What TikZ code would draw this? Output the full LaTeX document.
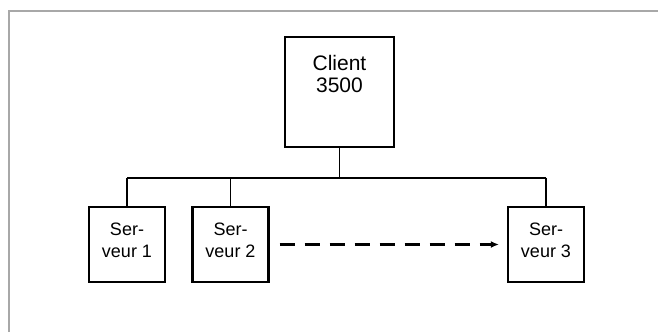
\documentclass[tikz,border=0pt]{standalone}
\usepackage{fontspec}
\setmainfont{Liberation Sans}
\setsansfont{Liberation Sans}
\usetikzlibrary{arrows.meta}
\definecolor{framegray}{HTML}{A8A8A8}
\tikzset{
  font=\sffamily,
  frame/.style={draw=framegray, line width=2pt},
  hostbox/.style={draw, line width=2.2pt, minimum width=109pt, minimum height=110pt, inner sep=0pt},
  hostlabel/.style={align=center, inner sep=0pt, font=\sffamily\fontsize{21}{22}\selectfont},
  serverbox/.style={
    draw, line width=2.2pt, minimum width=76pt, minimum height=75pt,
    align=center, inner sep=0pt, text depth=8pt,
    font=\sffamily\fontsize{18}{22}\selectfont
  },
  link/.style={line width=1.7pt},
  transfer/.style={-{Latex[length=8pt,width=7pt]}, line width=2.6pt, dash pattern=on 15pt off 10pt}
}
\begin{document}
\begin{tikzpicture}[x=1pt,y=-1pt]
  \useasboundingbox (0,0) rectangle (658,332);
  \draw[frame] (9,332) -- (9,11) -- (658,11);

  \node[hostbox] (client) at (339.5,92) {};
  \node[hostlabel, anchor=north] (clientlabel) at ([yshift=-19pt]client.north) {Client\\3500};

  \node[serverbox] (s1) at (127,244.5) {Ser-\\veur 1};
  \node[serverbox] (s2) at (230.5,244.5) {Ser-\\veur 2};
  \node[serverbox] (s3) at (546,244.5) {Ser-\\veur 3};

  \coordinate (bus) at (339.5,177.7);
  \draw[link] (client.south) -- (bus);
  \draw[link] (s1.north |- bus) -- (s3.north |- bus);
  \foreach \srv in {s1,s2,s3} {
    \draw[link] (\srv.north |- bus) -- (\srv.north);
  }

  \draw[transfer, shorten <=10pt, shorten >=8pt] (s2) -- (s3);
\end{tikzpicture}
\end{document}
